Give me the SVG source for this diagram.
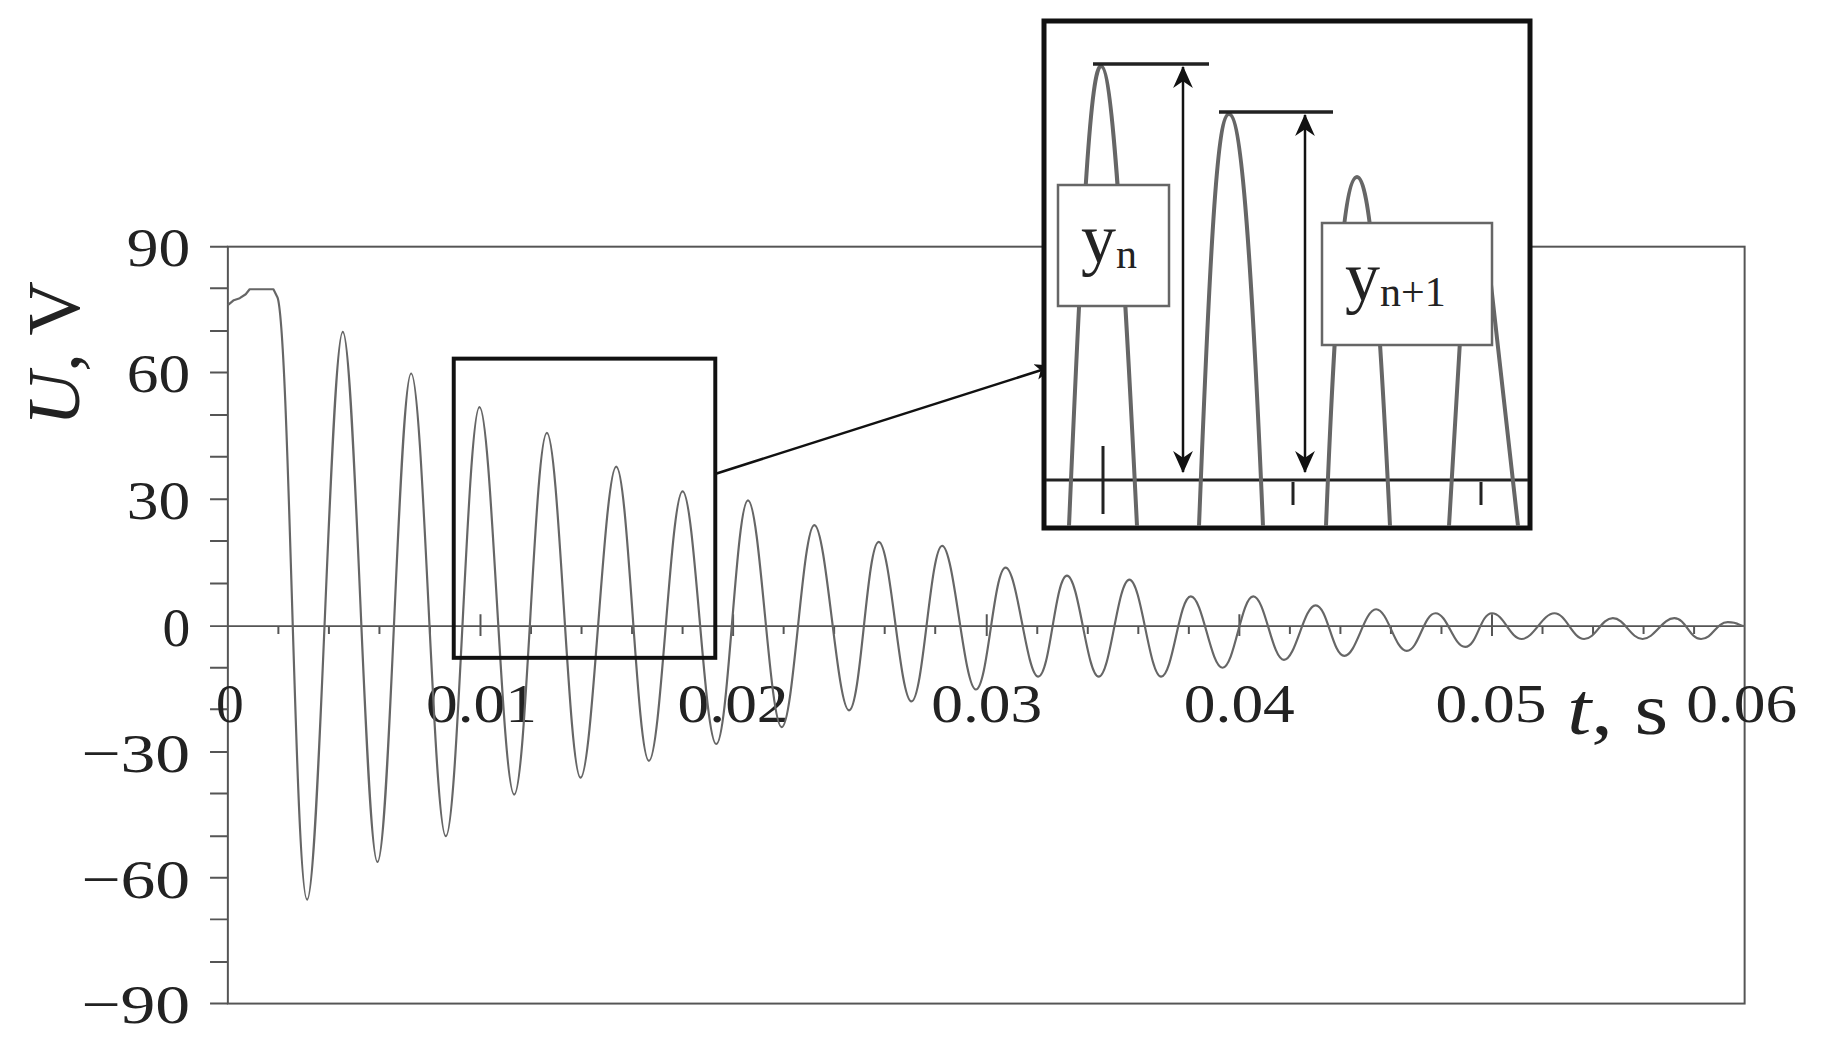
<svg xmlns="http://www.w3.org/2000/svg" width="1832" height="1050" viewBox="0 0 1832 1050">
<style>
.lbl{font-family:"Liberation Serif",serif;font-size:56px;fill:#222}
.ax{stroke:#555;stroke-width:2;fill:none}
.sig{stroke:#666;fill:none;stroke-linejoin:round}
.blk{stroke:#111;fill:none}
</style>
<defs>
<marker id="ah" viewBox="0 0 20 20" refX="19" refY="10" markerWidth="22" markerHeight="22" markerUnits="userSpaceOnUse" orient="auto-start-reverse"><path d="M0,1 L20,10 L0,19 L6,10 Z" fill="#111"/></marker>
<marker id="ah2" viewBox="0 0 20 20" refX="19" refY="10" markerWidth="20" markerHeight="20" markerUnits="userSpaceOnUse" orient="auto-start-reverse"><path d="M0,2 L20,10 L0,18 L5,10 Z" fill="#111"/></marker>
</defs>
<rect width="1832" height="1050" fill="#fff"/>
<g transform="scale(0.9907)">
<g id="axes">
<rect x="230" y="249" width="1531" height="764" class="ax"/>
<line x1="230" y1="632" x2="1761" y2="632" class="ax"/>
<path class="ax" d="M212,249h18M212,291h18M212,334h18M212,376h18M212,419h18M212,461h18M212,504h18M212,546h18M212,589h18M212,632h18M212,674h18M212,716h18M212,759h18M212,801h18M212,844h18M212,886h18M212,928h18M212,971h18M212,1013h18"/>
<path class="ax" d="M281,632v8M332,632v8M383,632v8M434,632v8M485,620v22M536,632v8M587,632v8M638,632v8M689,632v8M740,620v22M791,632v8M842,632v8M893,632v8M944,632v8M996,620v22M1047,632v8M1098,632v8M1149,632v8M1200,632v8M1251,620v22M1302,632v8M1353,632v8M1404,632v8M1455,632v8M1506,620v22M1557,632v8M1608,632v8M1659,632v8M1710,632v8"/>
</g>
<g id="ylabels" class="lbl" text-anchor="end" lengthAdjust="spacingAndGlyphs">
<text x="192" y="269" textLength="64" lengthAdjust="spacingAndGlyphs">90</text><text x="192" y="396" textLength="64" lengthAdjust="spacingAndGlyphs">60</text><text x="192" y="524" textLength="64" lengthAdjust="spacingAndGlyphs">30</text><text x="192" y="652">0</text>
<text x="192" y="779" textLength="110" lengthAdjust="spacingAndGlyphs">−30</text><text x="192" y="906" textLength="110" lengthAdjust="spacingAndGlyphs">−60</text><text x="192" y="1033" textLength="110" lengthAdjust="spacingAndGlyphs">−90</text>
</g>
<g id="xlabels" class="lbl" text-anchor="middle">
<text x="232" y="729">0</text><text x="486" y="729" textLength="112" lengthAdjust="spacingAndGlyphs">0.01</text><text x="740" y="729" textLength="112" lengthAdjust="spacingAndGlyphs">0.02</text><text x="996" y="729" textLength="112" lengthAdjust="spacingAndGlyphs">0.03</text><text x="1251" y="729" textLength="112" lengthAdjust="spacingAndGlyphs">0.04</text><text x="1505" y="729" textLength="112" lengthAdjust="spacingAndGlyphs">0.05</text><text x="1758" y="729" textLength="112" lengthAdjust="spacingAndGlyphs">0.06</text>
</g>
<text class="lbl" x="1582" y="741" style="font-size:74px" textLength="102" lengthAdjust="spacingAndGlyphs"><tspan font-style="italic">t</tspan>, s</text>
<text class="lbl" transform="translate(80,357) rotate(-90)" text-anchor="middle" style="font-size:74px" textLength="146" lengthAdjust="spacingAndGlyphs"><tspan font-style="italic">U</tspan>, V</text>
<g id="signal">
<path class="sig" stroke-width="2.2" d="M230,308 L236,303 L242,301 L248,297 L252,292 L276,292 L280,300 C292,330 298,908 310,908 S334,335 346,335 S369,870 381,870 S403,377 415,377 S438,844 450,844 S472,411 484,411 S507,802 519,802 S540,437 552,437 S574,785 586,785 S610,471 622,471 S643,768 655,768 S677,496 689,496 S711,751 723,751 S743,505 755,505 S777,734 789,734 S810,530 822,530 S845,717 857,717 S875,547 887,547 S908,708 920,708 S939,551 951,551 S973,696 985,696 S1003,573 1015,573 S1036,683 1048,683 S1065,581 1077,581 S1097,683 1109,683 S1128,585 1140,585 S1160,683 1172,683 S1190,602 1202,602 S1222,674 1234,674 S1253,602 1265,602 S1284,666 1296,666 S1316,611 1328,611 S1345,662 1357,662 S1377,615 1389,615 S1408,657 1420,657 S1437,619 1449,619 S1467,653 1479,653 S1494,619 1506,619 S1524,645 1536,645 S1557,619 1569,619 S1587,645 1599,645 S1616,624 1628,624 S1646,645 1658,645 S1678,624 1690,624 S1705,645 1717,645 S1732,628 1744,628 S1755,632 1761,632"/>
</g>
<g id="zoombox"><rect x="458" y="362" width="264" height="302" class="blk" stroke-width="4"/></g>
</g>
<g id="connectors">
<line x1="715" y1="474" x2="1054" y2="366" stroke="#111" stroke-width="2.5" marker-end="url(#ah2)"/>
</g>
<g id="inset">
<rect x="1044" y="21" width="486" height="507" fill="#fff" stroke="#111" stroke-width="5"/>
<line x1="1046" y1="480" x2="1528" y2="480" stroke="#222" stroke-width="3"/>
<path class="sig" stroke-width="4" d="M1069,526 C1083,200 1091,66 1101,66 C1111,66 1121,200 1137,526"/>
<path class="sig" stroke-width="4" d="M1199,526 C1211,220 1218,114 1229,114 C1240,114 1250,220 1263,526"/>
<path class="sig" stroke-width="4" d="M1326,526 C1335,300 1344,177 1357,177 C1370,177 1379,300 1390,526"/>
<path class="sig" stroke-width="4" d="M1449,526 L1466,240 M1486,240 L1518,526"/>
<path stroke="#222" stroke-width="3" d="M1103,446V514M1293,482V505M1481,482V505"/>
<line x1="1093" y1="64" x2="1209" y2="64" stroke="#222" stroke-width="3.5"/>
<line x1="1219" y1="112" x2="1333" y2="112" stroke="#222" stroke-width="3.5"/>
<line x1="1183" y1="67" x2="1183" y2="472" stroke="#111" stroke-width="2.5" marker-start="url(#ah)" marker-end="url(#ah)"/>
<line x1="1305" y1="115" x2="1305" y2="472" stroke="#111" stroke-width="2.5" marker-start="url(#ah)" marker-end="url(#ah)"/>
</g>
<g id="label-yn">
<rect x="1058" y="185" width="111" height="121" fill="#fff" stroke="#666" stroke-width="2.5"/>
<text class="lbl" x="1081" y="262" style="font-size:70px">y<tspan font-size="42px" dy="6">n</tspan></text>
</g>
<g id="label-yn1">
<rect x="1322" y="223" width="170" height="122" fill="#fff" stroke="#666" stroke-width="2.5"/>
<text class="lbl" x="1345" y="300" style="font-size:70px">y<tspan font-size="42px" dy="6">n+1</tspan></text>
</g>
</svg>
